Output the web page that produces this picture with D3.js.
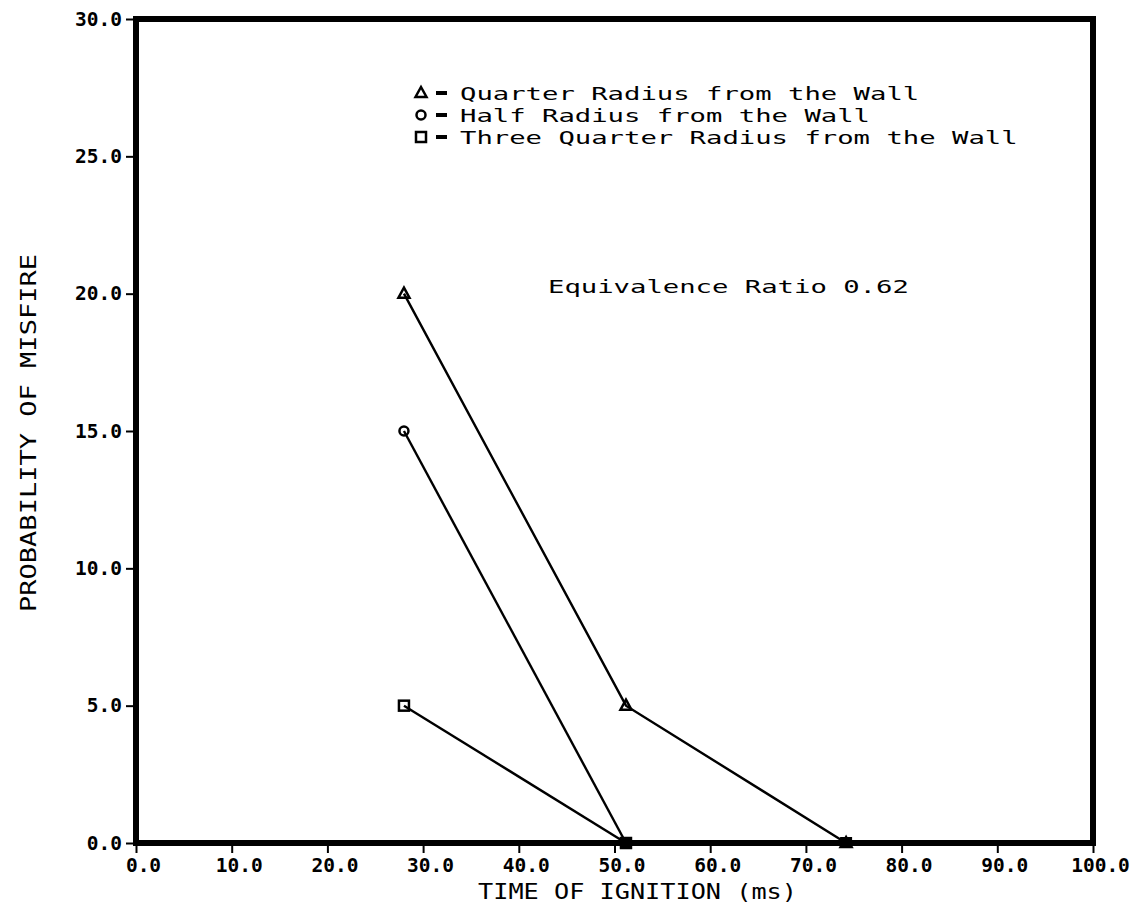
<!DOCTYPE html>
<html lang="en">
<head>
  <meta charset="utf-8">
  <title>Probability of Misfire vs Time of Ignition</title>
  <style>
    html,body { margin:0; padding:0; background:#fff; overflow:hidden; }
    svg { display:block; }
    text { font-family:"DejaVu Sans Mono", monospace; fill:#000; }
    .tick text { font-weight:bold; font-size:19.5px; }
  </style>
  <script src="https://d3js.org/d3.v7.min.js"></script>
</head>
<body>
<svg width="1139" height="919"></svg>
<script>
  /* ---- data ---- */
  const xTicks = [0, 10, 20, 30, 40, 50, 60, 70, 80, 90, 100];
  const yTicks = [0, 5, 10, 15, 20, 25, 30];

  const quarterX = [28, 51.2, 74.2];
  const quarterY = [20, 5, 0];
  const halfX    = [28, 51.2];
  const halfY    = [15, 0];
  const threeQX  = [28, 51.2];
  const threeQY  = [5, 0];

  const legendLabels = [
    "Quarter Radius from the Wall",
    "Half Radius from the Wall",
    "Three Quarter Radius from the Wall"
  ];
  const legendSymbols = ["triangle", "circle", "square"];
  const annotation = "Equivalence Ratio 0.62";

  /* ---- layout ---- */
  const svg = d3.select("svg");
  const plotL = 136, plotR = 1093, plotT = 19, plotB = 843;

  const x = d3.scaleLinear().domain([0, 100]).range([plotL, plotR]);
  const y = d3.scaleLinear().domain([0, 30]).range([plotB, plotT]);

  // the plotter font is wide: stretch glyphs to about 16px per character
  const perChar = 16.4;

  // frame
  svg.append("rect")
    .attr("x", plotL).attr("y", plotT)
    .attr("width", plotR - plotL).attr("height", plotB - plotT)
    .attr("fill", "none").attr("stroke", "#000").attr("stroke-width", 6);

  // axes
  const xAxis = svg.append("g")
    .attr("transform", `translate(0,${plotB})`)
    .call(d3.axisBottom(x).tickValues(xTicks).tickFormat(d3.format(".1f"))
      .tickSize(10).tickPadding(5));
  xAxis.selectAll(".tick text").attr("dx", 7);
  const yAxis = svg.append("g")
    .attr("transform", `translate(${plotL},0)`)
    .call(d3.axisLeft(y).tickValues(yTicks).tickFormat(d3.format(".1f"))
      .tickSize(10).tickPadding(4));
  [xAxis, yAxis].forEach(g => {
    g.select(".domain").remove();
    g.selectAll(".tick line").attr("stroke", "#000").attr("stroke-width", 2);
  });

  // axis titles
  svg.append("text")
    .attr("x", 478).attr("y", 899)
    .attr("textLength", 319).attr("lengthAdjust", "spacingAndGlyphs")
    .style("font-size", "21px")
    .text("TIME OF IGNITION (ms)");

  svg.append("text")
    .attr("transform", "translate(36,612) rotate(-90)")
    .attr("textLength", 358).attr("lengthAdjust", "spacingAndGlyphs")
    .style("font-size", "21px")
    .text("PROBABILITY OF MISFIRE");

  // series
  const series = [
    { xs: quarterX, ys: quarterY, sym: "triangle" },
    { xs: halfX,    ys: halfY,    sym: "circle" },
    { xs: threeQX,  ys: threeQY,  sym: "square" }
  ];

  const line = d3.line().x(d => x(d[0])).y(d => y(d[1]));

  function drawSymbol(g, sym, cx, cy) {
    if (sym === "triangle") {
      g.append("path")
        .attr("d", `M${cx},${cy - 6} L${cx + 5.5},${cy + 4} L${cx - 5.5},${cy + 4} Z`)
        .attr("fill", "none").attr("stroke", "#000").attr("stroke-width", 2.5);
    } else if (sym === "circle") {
      g.append("circle").attr("cx", cx).attr("cy", cy).attr("r", 4.5)
        .attr("fill", "none").attr("stroke", "#000").attr("stroke-width", 2.5);
    } else {
      g.append("rect").attr("x", cx - 5).attr("y", cy - 5)
        .attr("width", 10).attr("height", 10)
        .attr("fill", "none").attr("stroke", "#000").attr("stroke-width", 2.5);
    }
  }

  series.forEach(s => {
    const pts = s.xs.map((v, i) => [v, s.ys[i]]);
    svg.append("path").datum(pts)
      .attr("d", line)
      .attr("fill", "none").attr("stroke", "#000").attr("stroke-width", 2.4);
    const g = svg.append("g");
    pts.forEach(p => drawSymbol(g, s.sym, x(p[0]), y(p[1])));
  });

  // zero-value points look filled where they sit on the axis
  series.forEach(s => {
    s.xs.forEach((v, i) => {
      if (s.ys[i] === 0) {
        svg.append("rect").attr("x", x(v) - 6).attr("y", y(0) - 6)
          .attr("width", 12).attr("height", 11).attr("fill", "#000");
      }
    });
  });

  // legend
  const legend = svg.append("g");
  legendLabels.forEach((lab, i) => {
    const ly = 93 + i * 22;
    drawSymbol(legend, legendSymbols[i], 421, ly);
    legend.append("rect").attr("x", 436).attr("y", ly - 2)
      .attr("width", 11).attr("height", 4).attr("fill", "#000");
    legend.append("text")
      .attr("x", 460).attr("y", ly + 7)
      .attr("textLength", lab.length * perChar).attr("lengthAdjust", "spacingAndGlyphs")
      .style("font-size", "18px")
      .text(lab);
  });

  svg.append("text")
    .attr("x", 548).attr("y", 293)
    .attr("textLength", annotation.length * perChar).attr("lengthAdjust", "spacingAndGlyphs")
    .style("font-size", "18px")
    .text(annotation);
</script>
</body>
</html>
